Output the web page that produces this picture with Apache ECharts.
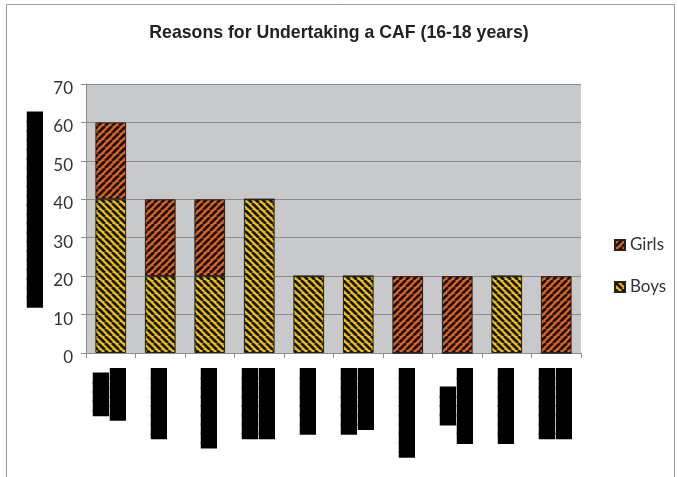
<!DOCTYPE html>
<html>
<head>
<meta charset="utf-8">
<script src="https://cdn.jsdelivr.net/npm/echarts@6/dist/echarts.min.js"></script>
<style>
  html, body { margin: 0; padding: 0; background: #fff; }
  #chart { width: 678px; height: 477px; }
</style>
</head>
<body>
<div id="chart"></div>
<script>
// Category labels are blacked out (redacted) in this chart, so they are drawn as block glyphs.
const categories = [
  '▐████\n▐█████',
  '▐███████',
  '▐████████',
  '▐███████\n▐███████',
  '███████',
  '███████\n▐██████',
  '▐█████████',
  '████\n████████',
  '████████',
  '▐███████\n▐███████'
];
const boys  = [40, 20, 20, 40, 20, 20, 0, 0, 20, 0];
const girls = [20, 20, 20, 0, 0, 0, 20, 20, 0, 20];
const yTicks = { min: 0, max: 70, interval: 10 };
const titleText = 'Reasons for Undertaking a CAF (16-18 years)';
const yAxisTitle = '█████████████████████';

// Diagonal hatch fill, tiled as a canvas pattern.
function hatch(bg, dir) {
  const s = 7;
  const c = document.createElement('canvas');
  c.width = c.height = s;
  const g = c.getContext('2d');
  g.fillStyle = bg;
  g.fillRect(0, 0, s, s);
  g.strokeStyle = '#141414';
  g.lineWidth = 2.7;
  g.beginPath();
  for (let k = -1; k <= 1; k++) {
    const o = k * s;
    if (dir === '/') { g.moveTo(o, s); g.lineTo(o + s, 0); }
    else { g.moveTo(o, 0); g.lineTo(o + s, s); }
  }
  g.stroke();
  return { image: c, repeat: 'repeat' };
}

const chart = echarts.init(document.getElementById('chart'), null, { renderer: 'canvas' });

chart.setOption({
  animation: false,
  backgroundColor: '#fff',
  title: {
    text: titleText,
    left: 'center',
    top: 19,
    textStyle: { fontFamily: 'Liberation Sans, Arial', fontWeight: 'bold', fontSize: 17.7, color: '#222' }
  },
  legend: {
    orient: 'vertical',
    left: 609,
    top: 231,
    itemWidth: 10,
    itemHeight: 10,
    itemGap: 24,
    icon: 'rect',
    data: ['Girls', 'Boys'],
    textStyle: { fontFamily: 'Lato, Open Sans, sans-serif', fontSize: 17, color: '#333', lineHeight: 18 }
  },
  grid: { left: 86, top: 84, right: 97, bottom: 124, show: true, backgroundColor: '#c8c9cb', borderWidth: 0 },
  xAxis: {
    type: 'category',
    data: categories,
    axisLine: { lineStyle: { color: '#8c8c8c', width: 1 } },
    axisTick: { show: true, alignWithLabel: false, length: 5, lineStyle: { color: '#8c8c8c' } },
    axisLabel: {
      interval: 0,
      rotate: 90,
      margin: 16,
      formatter: v => v.split('\n').map(l => '{c|' + l + '}').join('\n'),
      rich: {
        c: {
          align: 'center', fontFamily: 'DejaVu Sans', fontSize: 12, lineHeight: 17,
          color: '#000', textBorderColor: '#000', textBorderWidth: 2
        }
      }
    }
  },
  yAxis: {
    type: 'value',
    min: yTicks.min,
    max: yTicks.max,
    interval: yTicks.interval,
    axisLine: { show: true, lineStyle: { color: '#8c8c8c' } },
    axisTick: { show: true, length: 5, lineStyle: { color: '#8c8c8c' } },
    axisLabel: {
      margin: 13,
      formatter: v => '{n|' + v + '}',
      rich: {
        n: { padding: [9, 0, 0, 0], fontFamily: 'Lato, Open Sans, sans-serif', fontSize: 17, color: '#333' }
      }
    },
    splitLine: { lineStyle: { color: '#8c8c8c', width: 1 } }
  },
  series: [
    {
      name: 'Boys',
      type: 'bar',
      stack: 'all',
      data: boys,
      barCategoryGap: '38%',
      itemStyle: { color: hatch('#f2c200', '\\'), borderColor: '#222', borderWidth: 1 }
    },
    {
      name: 'Girls',
      type: 'bar',
      stack: 'all',
      data: girls,
      barCategoryGap: '38%',
      itemStyle: { color: hatch('#e8601c', '/'), borderColor: '#222', borderWidth: 1 }
    }
  ],
  graphic: [
    {
      type: 'rect',
      silent: true,
      shape: { x: 6.5, y: 4.5, width: 668, height: 490 },
      style: { fill: null, stroke: '#9a9a9a', lineWidth: 1 }
    },
    {
      type: 'text',
      x: 36,
      y: 209.5,
      rotation: Math.PI / 2,
      style: {
        text: yAxisTitle, font: '12px "DejaVu Sans"', fill: '#000',
        stroke: '#000', lineWidth: 2, align: 'center', verticalAlign: 'middle'
      }
    }
  ]
});
</script>
</body>
</html>
